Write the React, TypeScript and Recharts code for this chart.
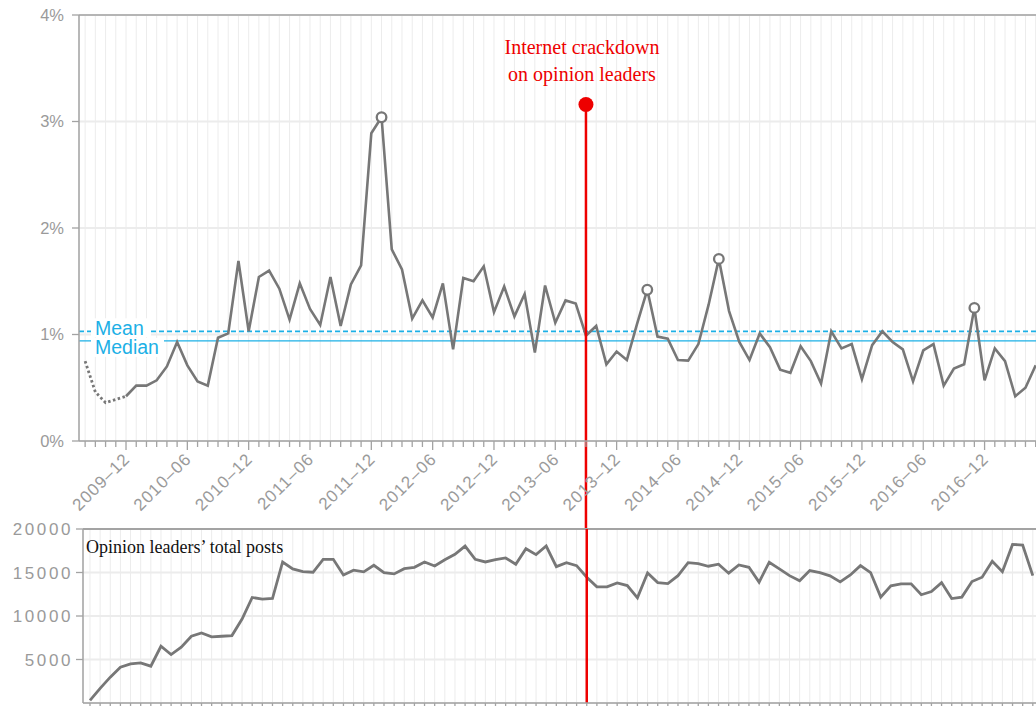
import React from 'react';
import { ComposedChart, Line, XAxis, YAxis, CartesianGrid, ReferenceLine, ReferenceDot } from 'recharts';

// share of posts (%) per month, starting 2009-08
const pct = [
  0.75, 0.46, 0.36, 0.39, 0.42, 0.52, 0.52, 0.57, 0.70, 0.93,
  0.71, 0.56, 0.52, 0.97, 1.01, 1.69, 1.03, 1.54, 1.60, 1.43,
  1.14, 1.48, 1.24, 1.09, 1.54, 1.08, 1.47, 1.65, 2.89, 3.04,
  1.80, 1.61, 1.15, 1.32, 1.16, 1.48, 0.86, 1.53, 1.50, 1.64,
  1.21, 1.45, 1.17, 1.38, 0.83, 1.46, 1.11, 1.32, 1.29, 0.99,
  1.08, 0.72, 0.84, 0.76, 1.10, 1.42, 0.98, 0.96, 0.76, 0.755,
  0.91, 1.28, 1.71, 1.22, 0.93, 0.76, 1.01, 0.88, 0.67, 0.64,
  0.89, 0.75, 0.54, 1.03, 0.87, 0.91, 0.58, 0.90, 1.03, 0.93,
  0.86, 0.56, 0.85, 0.91, 0.52, 0.68, 0.72, 1.25, 0.57, 0.87,
  0.75, 0.42, 0.50, 0.71,
];

// opinion leaders' total posts per month
const posts = [
  300, 1680, 2970, 4120, 4500, 4620, 4230, 6520, 5570, 6410,
  7670, 8050, 7600, 7670, 7750, 9650, 12130, 11940, 12010, 16210,
  15410, 15100, 15030, 16520, 16520, 14720, 15260, 15070, 15830, 14990,
  14840, 15440, 15600, 16210, 15750, 16470, 17090, 18040, 16520, 16210,
  16470, 16670, 15950, 17730, 17050, 18040, 15670, 16130, 15790, 14460,
  13350, 13350, 13810, 13500, 12090, 14950, 13840, 13730, 14640, 16130,
  16020, 15720, 15950, 14920, 15870, 15600, 13890, 16180, 15410, 14640,
  14040, 15220, 14990, 14610, 13920, 14720, 15790, 14990, 12170, 13460,
  13690, 13690, 12440, 12810, 13840, 12010, 12170, 13960, 14460, 16290,
  15100, 18230, 18150, 14640,
];

const tickLabels = [
  '2009–12', '2010–06', '2010–12', '2011–06', '2011–12', '2012–06', '2012–12', '2013–06',
  '2013–12', '2014–06', '2014–12', '2015–06', '2015–12', '2016–06', '2016–12',
];
const peakMonths = ['2012–01', '2014–03', '2014–10', '2016–11'];
const CRACKDOWN = '2013–09';
const DOTTED_UNTIL = '2009–12';
const MEAN = 1.03;
const MEDIAN = 0.94;
const CRACK_DOT = 3.16;
const pctTicks = [0, 1, 2, 3, 4];
const postTicks = [5000, 10000, 15000, 20000];

const AXIS = '#a3a3a3';
const TICK_TEXT = '#9a9a9a';
const GRID = '#ececec';
const LINE = '#777777';
const RED = '#ee0000';
const BLUE = '#1cb0e6';
const SANS = '"Liberation Sans", Arial, sans-serif';
const SERIF = '"Liberation Serif", "Times New Roman", serif';

const monthKey = (i: number) => {
  const m = 7 + i; // first month is 2009-08
  const y = 2009 + Math.floor(m / 12);
  return `${y}–${String((m % 12) + 1).padStart(2, '0')}`;
};
const months = pct.map((_, i) => monthKey(i));
const dottedEnd = months.indexOf(DOTTED_UNTIL);
const crackIdx = months.indexOf(CRACKDOWN);
const allIdx = months.map((_, i) => i);

const topData = pct.map((v, i) => ({
  idx: i,
  solid: i >= dottedEnd ? v : null,
  dotted: i <= dottedEnd ? v : null,
  peak: peakMonths.includes(months[i]),
}));
const bottomData = posts.map((v, i) => ({ idx: i, posts: v }));

const MonthTick = (props: any) => {
  const { x, y, payload, showLabels } = props;
  const label = months[payload.value];
  const major = tickLabels.includes(label);
  return (
    <g>
      <line x1={x} x2={x} y1={y} y2={y + (major ? 9 : 6)} stroke={AXIS} strokeWidth={1.3} />
      {showLabels && major && (
        <text
          x={x + 5}
          y={y + 19}
          textAnchor="end"
          transform={`rotate(-45, ${x + 5}, ${y + 19})`}
          fill={TICK_TEXT}
          fontSize={17}
          fontFamily={SANS}
          letterSpacing={1}
        >
          {label}
        </text>
      )}
    </g>
  );
};

const StatLabel = (text: string, boxW: number, above: boolean) => (props: any) => {
  const vb = props.viewBox || {};
  const lx = vb.x + 16;
  const ly = vb.y;
  return (
    <g>
      <rect x={lx - 4} y={above ? ly - 13 : ly - 3} width={boxW} height={19} fill="#fff" />
      <text x={lx} y={above ? ly + 3.5 : ly + 13} fill={BLUE} fontSize={19.5} fontFamily={SANS}>
        {text}
      </text>
    </g>
  );
};

const CrackdownLabel = (props: any) => {
  const vb = props.viewBox || {};
  const cx = vb.x + vb.width / 2 - 4;
  const cy = vb.y + vb.height / 2;
  return (
    <g fill={RED} fontSize={20} fontFamily={SERIF} textAnchor="middle">
      <text x={cx} y={cy - 50}>Internet crackdown</text>
      <text x={cx} y={cy - 23}>on opinion leaders</text>
    </g>
  );
};

const PostsTitle = (props: any) => {
  const vb = props.viewBox || {};
  return (
    <text x={vb.x + 3} y={vb.y + 24} fill="#111" fontSize={18} fontFamily={SERIF}>
      Opinion leaders’ total posts
    </text>
  );
};

const PeakDot = (p: any) =>
  p.payload && p.payload.peak ? (
    <circle key={`pk-${p.index}`} cx={p.cx} cy={p.cy} r={4.8} fill="#fff" stroke={LINE} strokeWidth={2.3} />
  ) : (
    <g key={`pk-${p.index}`} />
  );

export default function App() {
  return (
    <div style={{ position: 'fixed', left: 0, top: 0, width: 1036, height: 706, overflow: 'hidden', background: '#fff' }}>
      <div style={{ position: 'absolute', left: 0, top: 0 }}>
        <ComposedChart width={1060} height={530} data={topData} margin={{ top: 15, right: 10, bottom: 0, left: 0 }}>
          <CartesianGrid horizontal={false} stroke={GRID} strokeWidth={1} />
          <CartesianGrid vertical={false} stroke={GRID} strokeWidth={2} />
          <XAxis
            dataKey="idx"
            type="number"
            domain={[-0.6, 94.4]}
            ticks={allIdx}
            interval={0}
            height={89}
            tickSize={0}
            tickMargin={0}
            tickLine={false}
            axisLine={{ stroke: AXIS, strokeWidth: 1.5 }}
            tick={<MonthTick showLabels />}
            allowDataOverflow
          />
          <YAxis
            type="number"
            domain={[0, 4]}
            ticks={pctTicks}
            width={79}
            tickSize={7}
            tickMargin={8}
            tickFormatter={(v: number) => `${v}%`}
            axisLine={{ stroke: AXIS, strokeWidth: 1.5 }}
            tickLine={{ stroke: AXIS, strokeWidth: 1.3 }}
            tick={{ fill: TICK_TEXT, fontSize: 16.5, fontFamily: SANS }}
          />
          <ReferenceLine y={4} stroke={AXIS} strokeWidth={1.5} />
          <ReferenceLine y={MEAN} stroke={BLUE} strokeWidth={1.8} strokeDasharray="5 3" label={StatLabel('Mean', 60, true)} />
          <ReferenceLine y={MEDIAN} stroke={BLUE} strokeWidth={1.4} label={StatLabel('Median', 73, false)} />
          <Line
            dataKey="dotted"
            type="linear"
            stroke={LINE}
            strokeWidth={2.8}
            strokeDasharray="2.5 2.5"
            dot={false}
            activeDot={false}
            isAnimationActive={false}
          />
          <Line
            dataKey="solid"
            type="linear"
            stroke={LINE}
            strokeWidth={2.6}
            dot={PeakDot}
            activeDot={false}
            isAnimationActive={false}
          />
          <ReferenceLine
            segment={[{ x: crackIdx, y: CRACK_DOT }, { x: crackIdx, y: -0.83 }]}
            stroke={RED}
            strokeWidth={2.5}
            ifOverflow="visible"
          />
          <ReferenceDot x={crackIdx} y={CRACK_DOT} r={7.5} fill={RED} stroke="none" ifOverflow="visible" label={CrackdownLabel} />
        </ComposedChart>
      </div>
      <div style={{ position: 'absolute', left: 0, top: 500 }}>
        <ComposedChart width={1057} height={223} data={bottomData} margin={{ top: 29, right: 10, bottom: 0, left: 0 }}>
          <CartesianGrid horizontal={false} stroke={GRID} strokeWidth={1} />
          <CartesianGrid vertical={false} stroke={GRID} strokeWidth={2} />
          <XAxis
            dataKey="idx"
            type="number"
            domain={[-0.69, 94.4]}
            ticks={allIdx}
            interval={0}
            height={20}
            tickSize={0}
            tickMargin={0}
            tickLine={false}
            axisLine={{ stroke: AXIS, strokeWidth: 1.5 }}
            tick={<MonthTick showLabels={false} />}
            allowDataOverflow
          />
          <YAxis
            type="number"
            domain={[0, 20000]}
            ticks={postTicks}
            width={83}
            tickSize={7}
            tickMargin={3}
            axisLine={{ stroke: AXIS, strokeWidth: 1.5 }}
            tickLine={{ stroke: AXIS, strokeWidth: 1.3 }}
            tick={{ fill: TICK_TEXT, fontSize: 17, fontFamily: SANS, letterSpacing: 2.6 }}
          />
          <ReferenceLine y={20000} stroke={AXIS} strokeWidth={1.8} label={PostsTitle} />
          <Line
            dataKey="posts"
            type="linear"
            stroke={LINE}
            strokeWidth={2.8}
            dot={false}
            activeDot={false}
            isAnimationActive={false}
          />
          <ReferenceLine x={crackIdx} stroke={RED} strokeWidth={2.5} />
        </ComposedChart>
      </div>
    </div>
  );
}
